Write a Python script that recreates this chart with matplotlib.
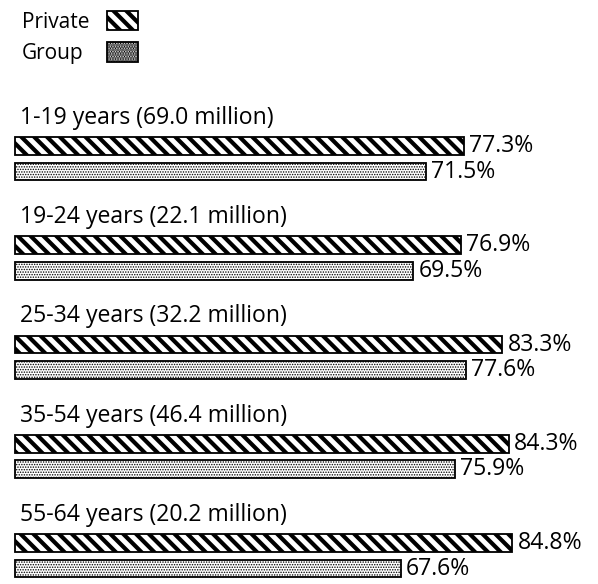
import matplotlib
matplotlib.use("Agg")
import matplotlib.pyplot as plt
from matplotlib.patches import Rectangle

# --- data -------------------------------------------------------------
age_groups = ["1-19", "19-24", "25-34", "35-54", "55-64"]
population_millions = [69.0, 22.1, 32.2, 46.4, 20.2]
private_pct = [77.3, 76.9, 83.3, 84.3, 84.8]
group_pct = [71.5, 69.5, 77.6, 75.9, 67.6]
series_names = ["Private", "Group"]

# --- style --------------------------------------------------------------
DPI = 77
W_PX, H_PX = 598, 584
FONT = ["Open Sans", "DejaVu Sans"]
FS = 21.5
FS_KEY = 19.5

plt.rcParams["font.family"] = FONT
plt.rcParams["hatch.color"] = "black"

fig = plt.figure(figsize=(W_PX / DPI, H_PX / DPI), dpi=DPI)
ax = fig.add_axes([0, 0, 1, 1])
ax.set_axis_off()

# horizontal scale: percent -> page, bars start at BASE
X_LEFT, X_RIGHT = 5.57, 98.1
BASE = 7.9
ax.set_xlim(X_LEFT, X_RIGHT)
# vertical scale: one unit per age group block
ax.set_ylim(4.796, -1.088)

PRIV_OFF, GRP_OFF, BAR_H, LABEL_OFF = 0.383, 0.64, 0.18, 0.161

priv_style = dict(facecolor="white", edgecolor="black", linewidth=1.7, hatch="\\\\")
grp_style = dict(facecolor="white", edgecolor="black", linewidth=1.7, hatch=".....")
PRIV_HATCH_LW, GRP_HATCH_LW = 3.9, 0.9


def set_hatch_lw(patch, lw):
    if hasattr(patch, "set_hatch_linewidth"):
        patch.set_hatch_linewidth(lw)


with plt.rc_context({"hatch.linewidth": PRIV_HATCH_LW}):
    pb = ax.barh([i + PRIV_OFF for i in range(len(age_groups))],
                 [v - BASE for v in private_pct], left=BASE, height=BAR_H,
                 **priv_style)
with plt.rc_context({"hatch.linewidth": GRP_HATCH_LW}):
    gb = ax.barh([i + GRP_OFF for i in range(len(age_groups))],
                 [v - BASE for v in group_pct], left=BASE, height=BAR_H,
                 **grp_style)
for r in pb:
    set_hatch_lw(r, PRIV_HATCH_LW)
for r in gb:
    set_hatch_lw(r, GRP_HATCH_LW)

for i, (age, pop) in enumerate(zip(age_groups, population_millions)):
    ax.text(8.6, i + LABEL_OFF, f"{age} years ({pop:.1f} million)",
            fontsize=FS, va="baseline", ha="left")
    ax.annotate(f"{private_pct[i]:.1f}%", (private_pct[i], i + PRIV_OFF),
                xytext=(5, 0), textcoords="offset points",
                va="center", ha="left", fontsize=FS)
    ax.annotate(f"{group_pct[i]:.1f}%", (group_pct[i], i + GRP_OFF),
                xytext=(5, 0), textcoords="offset points",
                va="center", ha="left", fontsize=FS)

# key in the top-left corner: label followed by its swatch
key_rows = [(series_names[0], priv_style, PRIV_HATCH_LW, 28, 11, 19),
            (series_names[1], grp_style, GRP_HATCH_LW * 2.2, 59, 42, 20)]
for name, style, hlw, base_px, top_px, h_px in key_rows:
    fig.text(22 / W_PX, 1 - base_px / H_PX, name, fontsize=FS_KEY,
             va="baseline", ha="left")
    with plt.rc_context({"hatch.linewidth": hlw}):
        sw = Rectangle((107 / W_PX, 1 - (top_px + h_px) / H_PX),
                       31 / W_PX, h_px / H_PX, transform=fig.transFigure,
                       **style)
    set_hatch_lw(sw, hlw)
    fig.add_artist(sw)

fig.savefig("out.png", dpi=DPI)
